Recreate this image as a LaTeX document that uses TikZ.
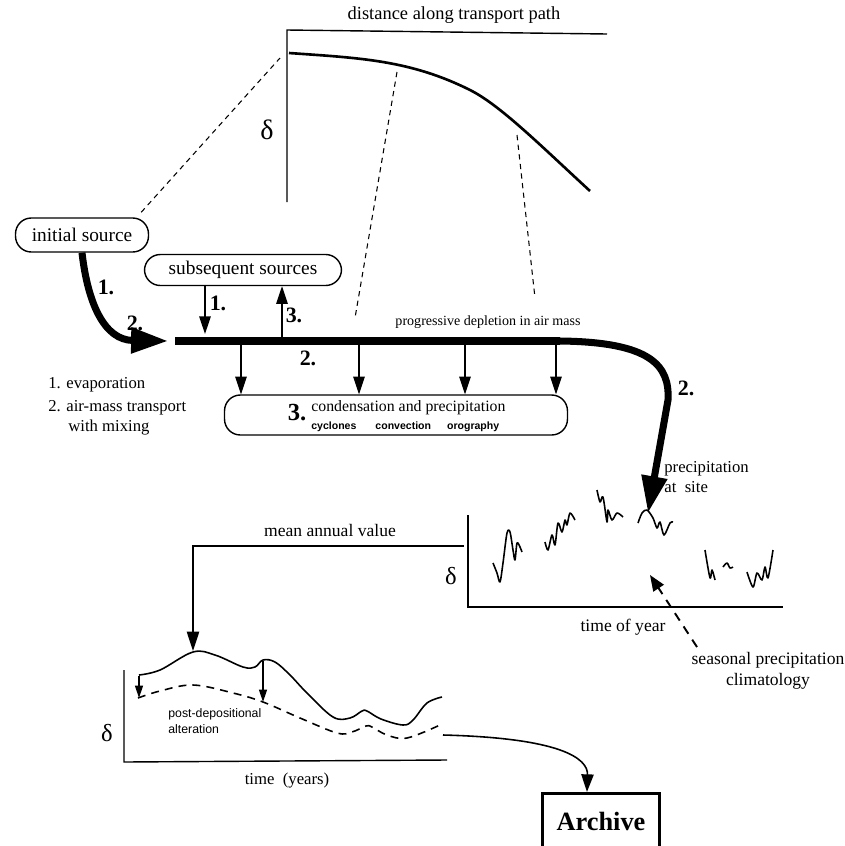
\documentclass[tikz,border=0pt]{standalone}
\usepackage{fontspec}
\setmainfont{Liberation Serif}
\setsansfont{Liberation Sans}
\usetikzlibrary{arrows.meta,positioning}

\begin{document}
\begin{tikzpicture}[x=0.02cm,y=-0.02cm,
    box/.style={draw,rounded corners=9pt,line width=0.8pt,inner sep=0pt},
    heavy/.style={line width=4pt,-{Triangle[length=21pt,width=14pt]}},
    drop/.style={line width=0.7pt,-{Triangle[length=10pt,width=6.5pt]}},
    tiny/.style={line width=0.7pt,-{Triangle[length=7pt,width=4.5pt]}},
    guide/.style={dash pattern=on 3pt off 2.5pt,line width=0.6pt},
    num/.style={font=\bfseries\fontsize{12.5}{13}\selectfont},
    lbl/.style={font=\fontsize{10}{12}\selectfont},
    wig/.style={line width=0.9pt,line join=round},
    dlt/.style={font=\fontsize{#1}{#1}\selectfont}]
  \useasboundingbox (0,0) rectangle (845,846);

  % transport path graph
  \node[font=\fontsize{10.5}{12}\selectfont] (dist) at (454,15) {distance along transport path};
  \draw[line width=0.8pt] (287,202) -- (287,30) -- (607,34);
  \node[dlt=16] (d1) at (267,130) {δ};
  \draw[line width=1.5pt] (289,53) .. controls (360,58) and (410,60) .. (470,90) .. controls (500,105) and (540,145) .. (590,191);
  \coordinate (g0) at (280,58);
  \coordinate (g1) at (397,72);
  \coordinate (g2) at (517,135);

  \node[box,minimum width=2.66cm,minimum height=0.68cm,font=\fontsize{11}{13}\selectfont] (src) at (82,235) {initial source};
  \node[box,minimum width=3.94cm,minimum height=0.62cm,font=\fontsize{11}{13}\selectfont] (sub) at (243,270) {subsequent sources};
  \node[box,minimum width=6.86cm,minimum height=0.8cm] (cond) at (396,415) {};
  \node[font=\bfseries\fontsize{14}{14}\selectfont,inner sep=0pt] (c3) at (297,413) {3.};
  \node[font=\fontsize{9}{9}\selectfont,align=left,anchor=west,inner sep=0pt] (ctext) at (311,416)
    {condensation and precipitation\\[1pt]
     {\sffamily\bfseries\fontsize{6}{7}\selectfont cyclones\hspace{0.38cm}convection\hspace{0.32cm}orography}};

  \draw[guide] (src.north east) ++(-8,-5) -- (g0);
  \coordinate (e1) at (355,318);
  \coordinate (e2) at (535,298);
  \draw[guide] (g1) -- (e1);
  \draw[guide] (g2) -- (e2);

  % air mass path
  \coordinate (p0) at (175,341);
  \coordinate (site) at (648,513);
  \draw[heavy] (src.south) .. controls (88,305) and (105,340) .. (168,341);
  \draw[line width=4pt] (p0) -- (560,341);
  \draw[heavy] (560,341) .. controls (650,342) and (670,365) .. (668,400) -- (site);
  \draw[drop] (205,0 |- sub.south) -- (205,334);
  \draw[drop] (282,339) -- (282,0 |- sub.south);
  \foreach \x in {241,359,465,556}
    \draw[drop] (\x,343) -- (\x,0 |- cond.north);

  \node[num] (n1) at (106,287) {1.};
  \node[num] (n2) at (135,323) {2.};
  \node[num] (n3) at (218,303) {1.};
  \node[num] (n4) at (294,315) {3.};
  \node[num] (n5) at (308,358) {2.};
  \node[num] (n6) at (686,388) {2.};
  \node[font=\fontsize{8}{9}\selectfont] (dep) at (488,322) {progressive depletion in air mass};

  \node[font=\fontsize{9.5}{11}\selectfont,anchor=west,inner sep=0pt] (k1) at (48,385) {1. evaporation};
  \node[font=\fontsize{9.5}{11}\selectfont,anchor=west,inner sep=0pt] (k2) at (48,408) {2. air-mass transport};
  \node[font=\fontsize{9.5}{11}\selectfont,anchor=west,inner sep=0pt] (k3) at (68,428) {with mixing};

  % precipitation at site
  \node[font=\fontsize{9.5}{11.5}\selectfont,align=left,anchor=west,inner sep=0pt] (prec) at (664,477) {precipitation\\at~ site};
  \draw[line width=0.8pt] (468,515) -- (468,607) -- (783,607);
  \node[dlt=14] (d2) at (451,576) {δ};
  \node[lbl] (toy) at (623,627) {time of year};
  \draw[wig] plot[smooth,tension=0.5] coordinates {(493,563) (497,573) (500,582) (503,563) (507,533) (510,532) (513,550) (515,560) (517,543) (520,547) (522,552)};
  \draw[wig] plot[smooth,tension=0.5] coordinates {(545,542) (548,550) (552,535) (555,545) (558,523) (562,532) (565,520) (567,525) (570,513) (575,520)};
  \draw[wig] plot[smooth,tension=0.5] coordinates {(597,490) (600,502) (603,497) (607,522) (608,510) (612,520) (617,513) (623,517)};
  \draw[wig] plot[smooth,tension=0.5] coordinates {(638,523) (642,513) (647,510) (653,518) (657,528) (660,522) (664,535) (670,523) (673,522)};
  \draw[wig] plot[smooth,tension=0.5] coordinates {(705,550) (710,578) (712,570) (715,580)};
  \draw[wig] plot[smooth,tension=0.5] coordinates {(723,567) (727,563) (730,568) (733,567)};
  \draw[wig] plot[smooth,tension=0.5] coordinates {(747,572) (753,587) (757,573) (762,580) (765,567) (768,578) (773,550)};
  \coordinate (clim) at (697,647);
  \coordinate (hole) at (650,575);
  \draw[dash pattern=on 5pt off 4pt,line width=1.1pt,-{Triangle[length=9pt,width=7pt]}] (clim) -- (hole);
  \node[lbl,align=center] (spc) at (768,671) {seasonal precipitation\\climatology};

  % annual record
  \coordinate (mav) at (464,546);
  \coordinate (peak) at (193,651);
  \node[lbl] (mtext) at (330,530) {mean annual value};
  \draw[line width=0.8pt,-{Triangle[length=11pt,width=7pt]}] (mav) -- (193,546) -- (peak);
  \draw[line width=0.8pt] (124,670) -- (124,762) -- (447,760);
  \node[dlt=14] (d3) at (107,733) {δ};
  \node[font=\fontsize{9.5}{11}\selectfont] (yrs) at (287,781) {time~~(years)};
  \draw[wig] plot[smooth,tension=0.6] coordinates {(139,675) (160,670) (193,652) (215,655) (243,667) (255,667) (263,660) (275,662) (290,675) (307,693) (333,717) (350,718) (362,711) (367,711) (381,719) (403,725) (413,720) (427,703) (442,697)};
  \draw[line width=0.9pt,dash pattern=on 4.5pt off 3.5pt] plot[smooth,tension=0.6] coordinates {(138,698) (160,691) (193,685) (233,693) (263,702) (300,718) (337,733) (352,732) (366,726) (372,727) (387,735) (407,738) (440,725)};
  \draw[tiny] (139,676) -- (139,698);
  \draw[tiny] (263,661) -- (263,702);
  \node[font=\sffamily\fontsize{7}{9}\selectfont,align=left,anchor=west,inner sep=0pt] (pda) at (168,721) {post-depositional\\alteration};

  \node[draw,line width=1.8pt,minimum width=2.34cm,minimum height=1.1cm,font=\bfseries\fontsize{15}{15}\selectfont] (arch) at (601,821) {Archive};
  \coordinate (alt) at (443,735);
  \draw[line width=0.9pt,-{Triangle[length=10pt,width=7pt]}] (alt) .. controls (560,738) and (588,758) .. (587,0 |- arch.north);
\end{tikzpicture}
\end{document}
